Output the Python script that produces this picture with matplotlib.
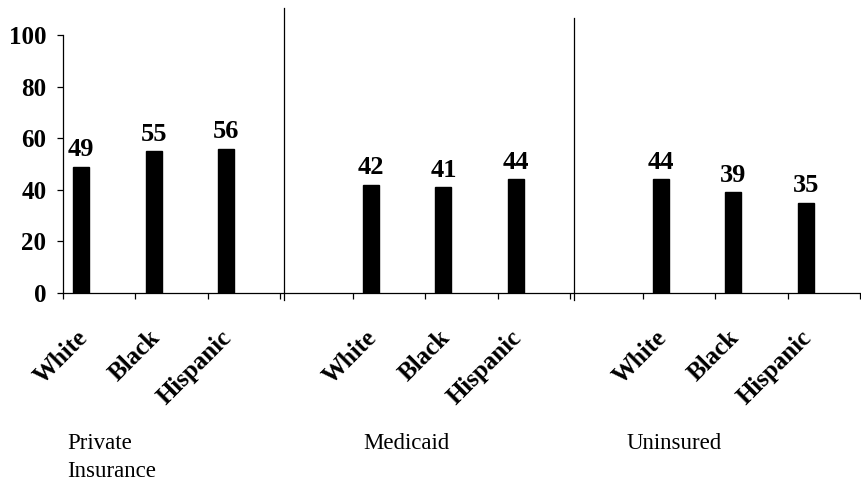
import matplotlib.pyplot as plt

plt.rcParams['font.family'] = ['Liberation Serif', 'DejaVu Serif']

groups = ["Private\nInsurance", "Medicaid", "Uninsured"]
races = ["White", "Black", "Hispanic"]
values = [
    [49, 55, 56],
    [42, 41, 44],
    [44, 39, 35],
]
y_ticks = [0, 20, 40, 60, 80, 100]

fig = plt.figure(figsize=(8.62, 4.83), dpi=100)
ax = fig.add_axes([63 / 862, 190 / 483, 797 / 862, 258 / 483])

# each group takes three category slots plus one empty slot as spacer
bar_w = 0.22
group_start = [0, 4, 8]

for g, start in enumerate(group_start):
    for i, v in enumerate(values[g]):
        x = start + i + 0.25
        ax.bar(x, v, width=bar_w, color="black", edgecolor="black")
        ax.annotate(str(v), (x, v), xytext=(0, 4), textcoords="offset points",
                    ha="center", va="bottom", fontsize=19, fontweight="bold")
        ax.annotate(races[i], (x, 0), xycoords=("data", "axes fraction"),
                    xytext=(-4, -24), textcoords="offset points",
                    rotation=45, rotation_mode="anchor",
                    ha="right", va="top", fontsize=18, fontweight="bold",
                    annotation_clip=False)

# vertical separators between the groups
ax.axvline(3.05, ymin=-0.027, ymax=1.105, color="black", lw=0.9, clip_on=False)
ax.axvline(7.05, ymin=-0.027, ymax=1.065, color="black", lw=0.9, clip_on=False)

# group names under the chart
name_x = [0.06, 4.14, 7.78]
for name, nx in zip(groups, name_x):
    ax.annotate(name, (nx, 0), xycoords=("data", "axes fraction"),
                xytext=(0, -101), textcoords="offset points",
                ha="left", va="top", fontsize=16.5, linespacing=1.45,
                annotation_clip=False)

ax.set_xlim(0, 11)
ax.set_ylim(0, 100)
ax.set_xticks(range(0, 12))
ax.set_xticklabels([])
ax.set_yticks(y_ticks)
ax.set_yticklabels([str(t) for t in y_ticks], fontsize=18, fontweight="bold")

ax.spines["top"].set_visible(False)
ax.spines["right"].set_visible(False)
for s in ("left", "bottom"):
    ax.spines[s].set_linewidth(0.9)
ax.tick_params(axis="y", direction="out", length=4, width=0.9, pad=8)
ax.tick_params(axis="x", direction="out", length=4, width=0.9)

fig.savefig("out.png", dpi=100)
